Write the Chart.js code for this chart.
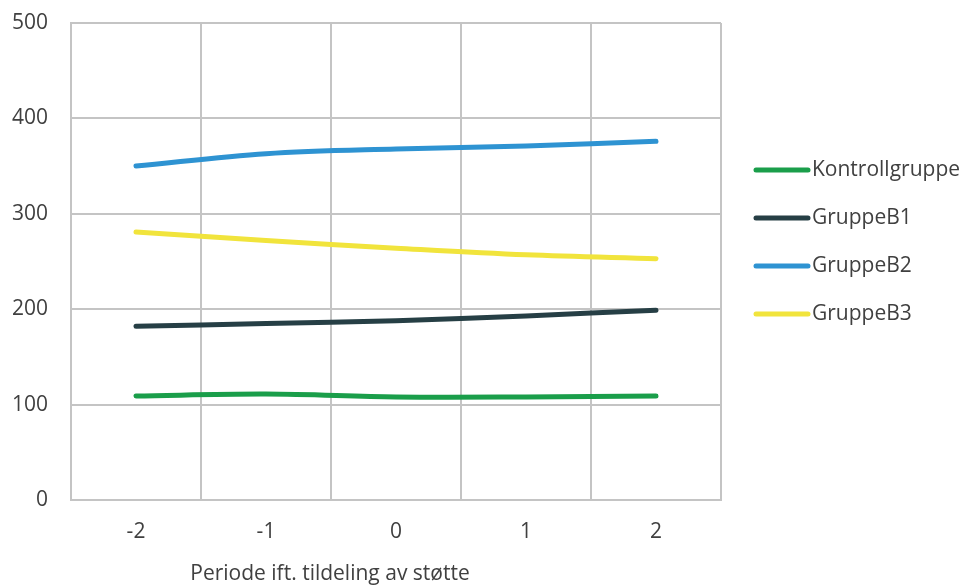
<!DOCTYPE html>
<html>
<head>
<meta charset="utf-8">
<script src="https://cdn.jsdelivr.net/npm/chart.js@4/dist/chart.umd.min.js"></script>
<style>
  html, body { margin: 0; padding: 0; background: #fff; }
  #wrap { width: 965px; height: 586px; }
</style>
</head>
<body>
<div id="wrap"><canvas id="chart" width="965" height="586"></canvas></div>
<script>
// Perioder (x-akse)
const perioder = ['-2', '-1', '0', '1', '2'];
// Verdier per gruppe
const kontrollgruppe = [109, 111, 108, 108, 109];
const gruppeB1 = [182, 185, 188, 193, 199];
const gruppeB2 = [350, 363, 368, 371, 376];
const gruppeB3 = [281, 272, 264, 257, 253];
const yTicks = [0, 100, 200, 300, 400, 500];

const tekstFarge = '#404040';
const gridFarge = '#c4c4c4';
const font = { family: '"Open Sans", sans-serif', size: 21 };

const serier = [
  { label: 'Kontrollgruppe', data: kontrollgruppe, color: '#1a9e4a' },
  { label: 'GruppeB1', data: gruppeB1, color: '#263f45' },
  { label: 'GruppeB2', data: gruppeB2, color: '#2e93d2' },
  { label: 'GruppeB3', data: gruppeB3, color: '#f1e43c' },
];

// Egen legende til høyre, som i originalen
const legendePlugin = {
  id: 'legende',
  afterDraw(chart) {
    const ctx = chart.ctx;
    ctx.save();
    ctx.font = font.size + 'px ' + font.family;
    ctx.textBaseline = 'middle';
    ctx.textAlign = 'left';
    chart.data.datasets.forEach((ds, i) => {
      const y = 170 + i * 48;
      ctx.strokeStyle = ds.borderColor;
      ctx.lineWidth = 5;
      ctx.lineCap = 'round';
      ctx.beginPath();
      ctx.moveTo(756, y);
      ctx.lineTo(808, y);
      ctx.stroke();
      ctx.fillStyle = tekstFarge;
      ctx.fillText(ds.label, 812, y);
    });
    ctx.restore();
  }
};

// Aksetittel, forskjøvet mot venstre som i originalen
const aksetittelPlugin = {
  id: 'aksetittel',
  afterDraw(chart) {
    const ctx = chart.ctx;
    ctx.save();
    ctx.font = font.size + 'px ' + font.family;
    ctx.fillStyle = tekstFarge;
    ctx.textAlign = 'center';
    ctx.textBaseline = 'middle';
    ctx.fillText('Periode ift. tildeling av støtte', 330, 574);
    ctx.restore();
  }
};

new Chart(document.getElementById('chart'), {
  type: 'line',
  data: {
    labels: perioder,
    datasets: serier.map(s => ({
      label: s.label,
      data: s.data,
      borderColor: s.color,
      backgroundColor: s.color,
      borderWidth: 5,
      borderCapStyle: 'round',
      pointRadius: 0,
      tension: 0.35,
      fill: false,
    })),
  },
  options: {
    responsive: false,
    animation: false,
    layout: { padding: { top: 23, right: 244, bottom: 0, left: 0 } },
    plugins: {
      legend: { display: false },
      tooltip: { enabled: false },
    },
    scales: {
      x: {
        offset: true,
        grid: { offset: true, color: gridFarge, lineWidth: 2, drawTicks: false },
        border: { color: gridFarge, width: 2 },
        ticks: { color: tekstFarge, font: font, padding: 19, maxRotation: 0 },
        afterFit(scale) { scale.height = 86; },
      },
      y: {
        min: 0,
        max: 500,
        afterBuildTicks(scale) { scale.ticks = yTicks.map(v => ({ value: v })); },
        grid: { color: gridFarge, lineWidth: 2, drawTicks: false },
        border: { color: gridFarge, width: 2 },
        ticks: { color: tekstFarge, font: font, padding: 23 },
        afterFit(scale) {
          scale.width = 71;
          scale.paddingTop = 0;
          scale.paddingBottom = 0;
        },
      },
    },
  },
  plugins: [legendePlugin, aksetittelPlugin],
});
</script>
</body>
</html>
